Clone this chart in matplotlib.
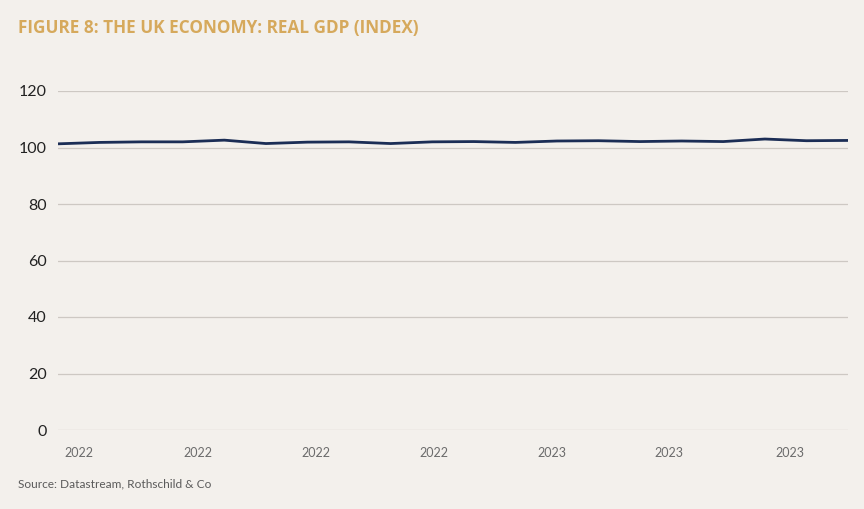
import matplotlib
matplotlib.use('Agg')
import matplotlib.pyplot as plt

# ============================================================
# Data
# ============================================================
gdp_index = [101.3, 101.8, 102.0, 102.0, 102.6, 101.4, 101.9, 102.0, 101.4, 102.0,
             102.1, 101.8, 102.3, 102.4, 102.1, 102.3, 102.1, 103.0, 102.4, 102.5]
tick_pos = [0.5, 3.36, 6.2, 9.03, 11.87, 14.7, 17.6]
tick_labels = ['2022', '2022', '2022', '2022', '2023', '2023', '2023']
y_ticks = [0, 20, 40, 60, 80, 100, 120]

bg = '#f3f0ec'
gold = '#d6a95c'
navy = '#1b2d55'
grid_col = '#cdc8c3'

plt.rcParams['font.family'] = ['Lato', 'DejaVu Sans']

fig = plt.figure(figsize=(8.64, 5.09), dpi=100, facecolor=bg)
ax = fig.add_axes([58 / 864, 1 - 430 / 509, 790 / 864, 339 / 509])
ax.set_facecolor(bg)

x = list(range(len(gdp_index)))
ax.plot(x, gdp_index, color=navy, lw=2.0, solid_capstyle='butt', zorder=3)

ax.set_xlim(0, len(gdp_index) - 1)
ax.set_ylim(0, 120)
ax.set_yticks(y_ticks)
ax.set_yticklabels([str(v) for v in y_ticks], fontsize=11.5, color='#222222')
ax.set_xticks(tick_pos)
ax.set_xticklabels(tick_labels, fontsize=9, color='#6b6b6b')
ax.tick_params(axis='both', length=0)
ax.tick_params(axis='y', pad=8)
ax.tick_params(axis='x', pad=12)
ax.grid(axis='y', color=grid_col, lw=0.9, zorder=1)
for s in ax.spines.values():
    s.set_visible(False)

fig.text(18 / 864, 1 - 28 / 509, 'FIGURE 8: THE UK ECONOMY: REAL GDP (INDEX)',
         color=gold, fontsize=12.3, fontweight='bold', va='center', ha='left',
         family=['Open Sans', 'DejaVu Sans'])
fig.text(18 / 864, 1 - 484 / 509, 'Source: Datastream, Rothschild & Co',
         color='#5a5a5a', fontsize=8.6, va='center', ha='left')

fig.savefig('out.png', dpi=100, facecolor=bg)
